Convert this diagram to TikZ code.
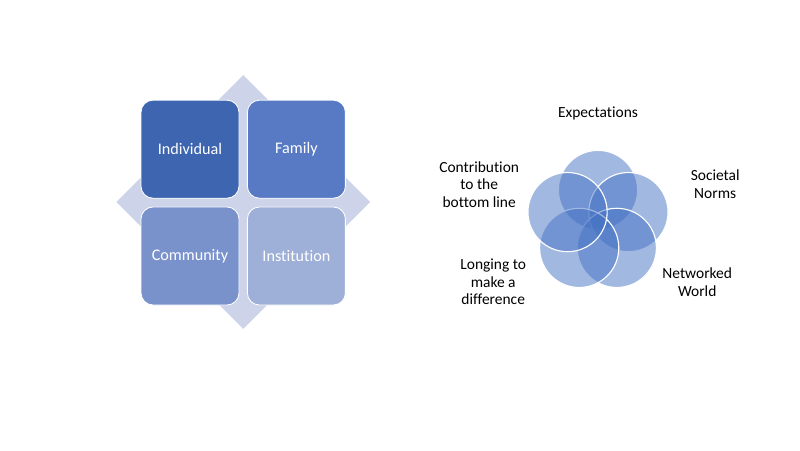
\documentclass[tikz,border=0pt]{standalone}
\usepackage{fontspec}
\setmainfont{Carlito}[Ligatures=CommonOff]
\definecolor{diamondfill}{RGB}{205,212,234}
\definecolor{indivblue}{RGB}{61,101,176}
\definecolor{familyblue}{RGB}{88,122,196}
\definecolor{commblue}{RGB}{122,146,204}
\definecolor{instblue}{RGB}{158,175,216}
\definecolor{ringblue}{RGB}{68,114,196}
\tikzset{
  quadbox/.style={draw=white, line width=0.6pt, rounded corners=0.3cm,
    minimum width=2.45cm, minimum height=2.45cm, text=white,
    font=\fontsize{11.5}{14}\selectfont},
  ring/.style={circle, draw=white, line width=0.8pt, fill=ringblue,
    fill opacity=0.5, minimum size=1.98cm, inner sep=0pt},
  ringlabel/.style={align=center, font=\fontsize{11}{12.5}\selectfont}
}
\begin{document}
\begin{tikzpicture}
  \useasboundingbox[fill=white] (0,0) rectangle (20,11.25);
  % Left part: diamond behind four boxes
  \coordinate (core) at (6.08,6.2);
  \fill[diamondfill] ([yshift=3.17cm]core) -- ([xshift=3.17cm]core)
    -- ([yshift=-3.17cm]core) -- ([xshift=-3.17cm]core) -- cycle;
  \node[quadbox, fill=indivblue] (indiv) at (4.75,7.52) {Individual};
  \node[quadbox, fill=familyblue] (family) at (7.41,7.52) {Family};
  \node[quadbox, fill=commblue] (community) at (4.75,4.85) {Community};
  \node[quadbox, fill=instblue] (institution) at (7.41,4.85) {Institution};
  % Right part: five overlapping circles
  \coordinate (hub) at (14.95,5.7);
  \foreach \ang [count=\i] in {90,18,-54,-126,162}
    \node[ring] (ring\i) at ([shift={(\ang:0.8)}]hub) {};
  % Labels round the circles
  \node[ringlabel] (expect) at (14.95,8.41) {Expectations};
  \node[ringlabel] (norms) at (17.88,6.65) {Societal\\Norms};
  \node[ringlabel] (world) at (17.43,4.2) {Networked\\World};
  \node[ringlabel] (longing) at (12.33,4.2) {Longing to\\make a\\difference};
  \node[ringlabel] (contrib) at (11.98,6.64) {Contribution\\to the\\bottom line};
\end{tikzpicture}
\end{document}
